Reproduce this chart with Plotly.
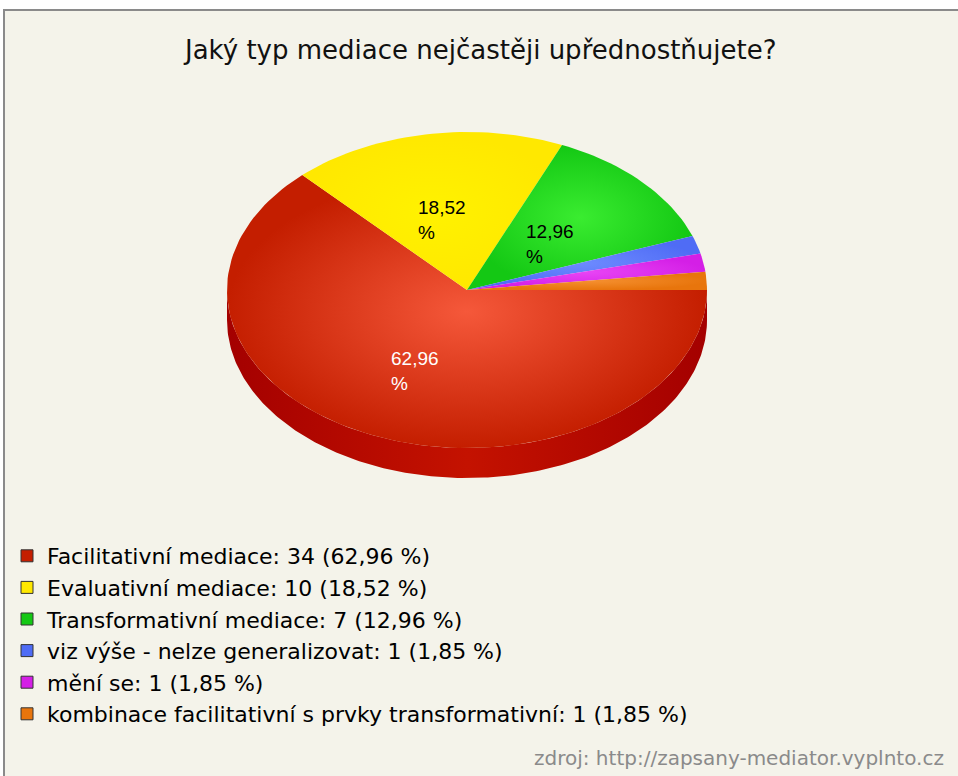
import numpy as np
import plotly.graph_objects as go

# ---- data ----
title_text = "Jaký typ mediace nejčastěji upřednostňujete?"
categories = [
    "Facilitativní mediace",
    "Evaluativní mediace",
    "Transformativní mediace",
    "viz výše - nelze generalizovat",
    "mění se",
    "kombinace facilitativní s prvky transformativní",
]
counts = [34, 10, 7, 1, 1, 1]
colors_edge = ["#c41e00", "#ffe800", "#14c814", "#4f6cf5", "#d41fe6", "#e8750c"]
colors_center = ["#f5583a", "#fff200", "#3aec30", "#6d8aff", "#e845f5", "#f59030"]
label_colors = ["white", "black", "black", None, None, None]
source_text = "zdroj: http://zapsany-mediator.vyplnto.cz"

W, H = 958, 776
total = sum(counts)
pcts = [c / total * 100 for c in counts]

def fmt(p):
    return f"{p:.2f}".replace(".", ",")

# pie geometry (pixel space)
cx, cy, rx, ry, depth = 467, 290, 240, 158, 30

fig = go.Figure()

# side (front rim) of the 3D pie
t = np.linspace(0, np.pi, 200)
sx = np.concatenate([cx + rx * np.cos(t), (cx + rx * np.cos(t))[::-1]])
sy = np.concatenate([cy + ry * np.sin(t), (cy + ry * np.sin(t) + depth)[::-1]])
fig.add_trace(go.Scatter(
    x=sx, y=sy, mode="lines", fill="toself", line=dict(width=0),
    fillcolor="#b00800",
    fillgradient=dict(type="horizontal",
                      colorscale=[[0, "#a40000"], [0.5, "#c41200"], [1, "#a40000"]]),
    hoverinfo="skip", showlegend=False))

# top slices, clockwise from 3 o'clock
start = 0.0
mids = []
for i, c in enumerate(counts):
    span = c / total * 2 * np.pi
    tt = np.linspace(start, start + span, max(4, int(200 * c / total) + 4))
    xs = np.concatenate([[cx], cx + rx * np.cos(tt), [cx]])
    ys = np.concatenate([[cy], cy + ry * np.sin(tt), [cy]])
    fig.add_trace(go.Scatter(
        x=xs, y=ys, mode="lines", fill="toself", line=dict(width=0),
        fillcolor=colors_edge[i],
        fillgradient=dict(type="radial",
                          colorscale=[[0, colors_center[i]], [1, colors_edge[i]]]),
        hoverinfo="skip", showlegend=False))
    mids.append(start + span / 2)
    start += span

# slice percentage labels (only for large slices)
for i, m in enumerate(mids):
    if label_colors[i] is None:
        continue
    fig.add_annotation(
        x=cx + 0.5 * rx * np.cos(m) - 4, y=cy + 0.5 * ry * np.sin(m) + 8,
        text=f"{fmt(pcts[i])}<br>%", showarrow=False, align="left",
        xanchor="center", yanchor="middle",
        font=dict(family="Liberation Sans, Arial", size=19, color=label_colors[i]))

# legend-only traces
for i, name in enumerate(categories):
    fig.add_trace(go.Scatter(
        x=[None], y=[None], mode="markers",
        marker=dict(symbol="square", size=12, color=colors_edge[i],
                    line=dict(color="#333333", width=1)),
        name=f"{name}: {counts[i]} ({fmt(pcts[i])} %)"))

fig.update_layout(
    width=W, height=H, autosize=False,
    margin=dict(l=0, r=0, t=0, b=0),
    paper_bgcolor="white", plot_bgcolor="rgba(0,0,0,0)",
    xaxis=dict(range=[0, W], visible=False, fixedrange=True),
    yaxis=dict(range=[H, 0], visible=False, fixedrange=True),
    showlegend=True,
    legend=dict(x=7 / W, y=1 - 535 / H, xanchor="left", yanchor="top",
                bgcolor="rgba(0,0,0,0)", tracegroupgap=0,
                font=dict(family="DejaVu Sans, Arial", size=22, color="black")),
    shapes=[dict(type="rect", xref="paper", yref="paper", x0=4 / W, x1=1.01,
                 y0=-0.01, y1=1 - 10 / H, fillcolor="#f4f3ea",
                 line=dict(color="#8a8a8a", width=2), layer="below")],
    annotations=list(fig.layout.annotations) + [
        dict(text=title_text, xref="paper", yref="paper", x=480 / W, y=1 - 50 / H,
             xanchor="center", yanchor="middle", showarrow=False,
             font=dict(family="DejaVu Sans, Arial", size=26, color="#111111")),
        dict(text=source_text, xref="paper", yref="paper", x=946 / W, y=1 - 758 / H,
             xanchor="right", yanchor="middle", showarrow=False,
             font=dict(family="DejaVu Sans, Arial", size=20, color="#8a8a8a")),
    ],
)

fig.write_html("out.html", config={"displayModeBar": False},
               post_script="document.body.style.margin='0';")
